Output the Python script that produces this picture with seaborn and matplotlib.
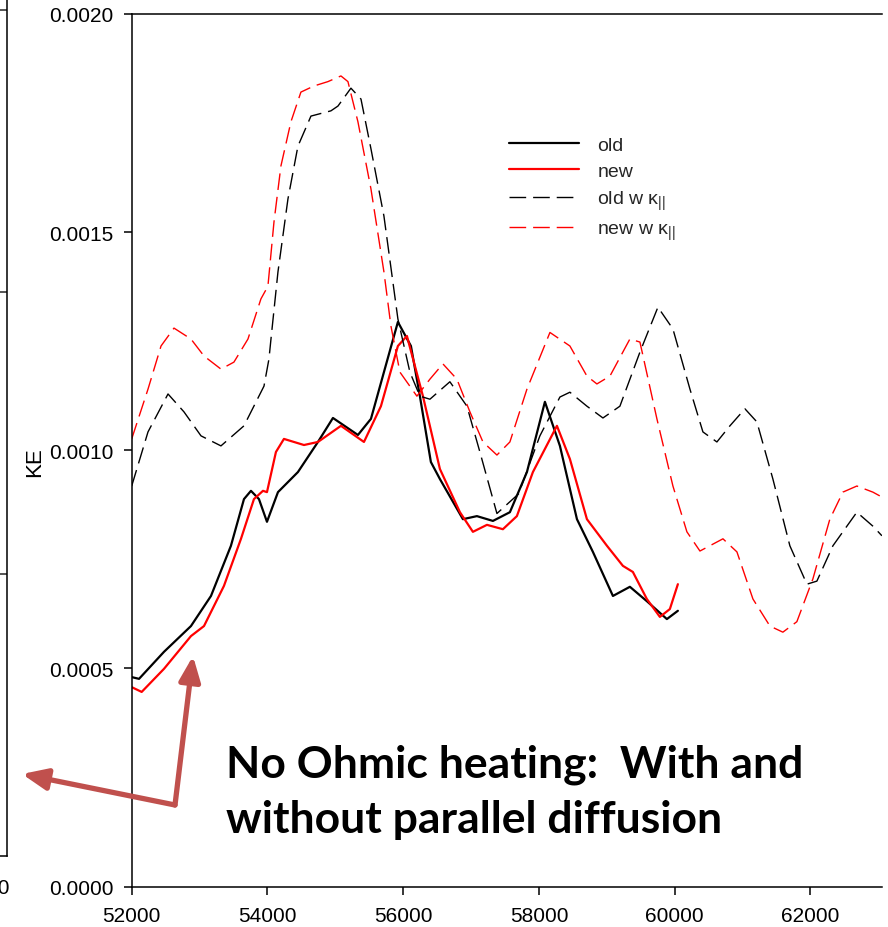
import numpy as np
import pandas as pd
import matplotlib
matplotlib.use("Agg")
import matplotlib.pyplot as plt
import seaborn as sns
from matplotlib.ticker import FormatStrFormatter, FixedLocator

# ---------------- data ----------------
x_old = [52000, 52108, 52476, 52873, 53168, 53462, 53654, 53757, 53875, 53993, 54155, 54449,
         54744, 54965, 55333, 55525, 55716, 55922, 56114, 56246, 56408, 56541, 56880, 57086,
         57322, 57572, 57823, 58088, 58309, 58560, 58795, 59090, 59340, 59590, 59885, 60047]
y_old = [0.000480, 0.000476, 0.000538, 0.000597, 0.000666, 0.000781, 0.000888, 0.000907,
         0.000888, 0.000836, 0.000904, 0.000950, 0.001019, 0.001074, 0.001035, 0.001072,
         0.001179, 0.001294, 0.001239, 0.001124, 0.000973, 0.000934, 0.000842, 0.000849,
         0.000838, 0.000858, 0.000950, 0.001111, 0.001010, 0.000842, 0.000767, 0.000666,
         0.000687, 0.000654, 0.000613, 0.000632]

x_new = [52000, 52147, 52476, 52873, 53065, 53359, 53610, 53801, 53934, 53993, 54125, 54243,
         54538, 54744, 55083, 55422, 55672, 55922, 56055, 56291, 56541, 56836, 57027, 57234,
         57469, 57675, 57911, 58265, 58456, 58707, 59002, 59237, 59384, 59590, 59782, 59929, 60047]
y_new = [0.000457, 0.000446, 0.000499, 0.000574, 0.000597, 0.000689, 0.000797, 0.000888,
         0.000907, 0.000904, 0.000996, 0.001026, 0.001012, 0.001019, 0.001056, 0.001019,
         0.001101, 0.001239, 0.001262, 0.001124, 0.000957, 0.000858, 0.000813, 0.000829,
         0.000819, 0.000849, 0.000950, 0.001056, 0.000980, 0.000842, 0.000781, 0.000735,
         0.000721, 0.000659, 0.000618, 0.000636, 0.000693]

x_oldk = [52000, 52240, 52535, 52770, 53021, 53315, 53654, 53949, 54022, 54052, 54155, 54302,
          54449, 54641, 54935, 55039, 55230, 55378, 55525, 55716, 55922, 56099, 56246, 56394,
          56688, 56939, 57130, 57381, 57700, 58014, 58309, 58456, 58707, 58943, 59193, 59488,
          59753, 59974, 60225, 60416, 60622, 60814, 61035, 61211, 61447, 61697, 61948, 62095,
          62331, 62684, 62920, 63053]
y_oldk = [0.000918, 0.001042, 0.001129, 0.001088, 0.001033, 0.001010, 0.001056, 0.001147,
          0.001209, 0.001255, 0.001409, 0.001576, 0.001697, 0.001766, 0.001778, 0.001789,
          0.001830, 0.001805, 0.001691, 0.001537, 0.001301, 0.001179, 0.001124, 0.001117,
          0.001157, 0.001101, 0.000996, 0.000855, 0.000900, 0.001033, 0.001122, 0.001133,
          0.001101, 0.001074, 0.001101, 0.001225, 0.001328, 0.001278, 0.001140, 0.001042,
          0.001019, 0.001056, 0.001095, 0.001065, 0.000934, 0.000781, 0.000693, 0.000700,
          0.000781, 0.000858, 0.000826, 0.000804]

x_newk = [52000, 52240, 52432, 52623, 52873, 53065, 53315, 53506, 53713, 53904, 54007, 54096,
          54199, 54346, 54493, 54685, 54891, 55083, 55186, 55333, 55525, 55716, 55819, 55952,
          56202, 56394, 56585, 56791, 56983, 57175, 57381, 57572, 57823, 58162, 58456, 58707,
          58854, 59046, 59340, 59488, 59738, 59974, 60180, 60372, 60711, 60917, 61153, 61403,
          61594, 61800, 62036, 62286, 62478, 62684, 62920, 63050]
y_newk = [0.001026, 0.001140, 0.001239, 0.001280, 0.001255, 0.001216, 0.001186, 0.001202,
          0.001255, 0.001347, 0.001376, 0.001523, 0.001652, 0.001753, 0.001821, 0.001835,
          0.001845, 0.001858, 0.001845, 0.001753, 0.001599, 0.001409, 0.001285, 0.001179,
          0.001124, 0.001163, 0.001198, 0.001163, 0.001088, 0.001019, 0.000989, 0.001019,
          0.001140, 0.001270, 0.001239, 0.001170, 0.001152, 0.001170, 0.001255, 0.001248,
          0.001072, 0.000918, 0.000813, 0.000769, 0.000797, 0.000767, 0.000659, 0.000597,
          0.000583, 0.000607, 0.000705, 0.000842, 0.000904, 0.000918, 0.000904, 0.000893]

labels = ["old", "new", "old w κ$_{||}$", "new w κ$_{||}$"]
x_ticks = [52000, 54000, 56000, 58000, 60000, 62000]
y_ticks = [0.0, 0.0005, 0.0010, 0.0015, 0.0020]
y_label = "KE"
note_line1 = "No Ohmic heating:  With and"
note_line2 = "without parallel diffusion"

# ---------------- figure ----------------
sns.set_theme(style="white")
plt.rcParams["font.family"] = ["Liberation Sans", "DejaVu Sans"]
plt.rcParams["mathtext.fontset"] = "custom"
plt.rcParams["mathtext.rm"] = "Liberation Sans"
plt.rcParams["mathtext.it"] = "Liberation Sans"
plt.rcParams["mathtext.default"] = "regular"

W, H = 888, 928
fig = plt.figure(figsize=(W / 100, H / 100), dpi=100)
fig.patch.set_facecolor("white")

# partial neighbouring panel at the far left (cropped)
ax2 = fig.add_axes([-0.2, (H - 857) / H, 0.2 + 7 / W, 857 / H])
ax2.set_xlim(0, 1)
ax2.set_ylim(0, 0.001 * 857 / 282)
for s in ["left", "top"]:
    ax2.spines[s].set_visible(False)
for s in ["right", "bottom"]:
    ax2.spines[s].set_color("black")
    ax2.spines[s].set_linewidth(1.1)
ax2.yaxis.tick_right()
ax2.yaxis.set_major_locator(FixedLocator([0.001, 0.002, 0.003]))
ax2.tick_params(axis="y", direction="in", length=6, width=1.1, labelright=False, right=True, left=False)
ax2.xaxis.set_major_locator(FixedLocator([1 - 27 / (0.2 * W + 7)]))
ax2.set_xticklabels(["64000"])
ax2.tick_params(axis="x", direction="out", length=6, width=1.1, labelsize=15, bottom=True,
                colors="black", pad=10)
ax2.set_facecolor("none")

# main axes
x0, x1 = 131.7, 881.7
y0, y1 = 887.5, 15
ax = fig.add_axes([x0 / W, (H - y0) / H, (x1 - x0) / W, (y0 - y1) / H])
ax.set_facecolor("white")

sns.lineplot(x=x_old, y=y_old, ax=ax, color="black", lw=1.6, label=labels[0], sort=False)
sns.lineplot(x=x_new, y=y_new, ax=ax, color="#ff0000", lw=1.6, label=labels[1], sort=False)
sns.lineplot(x=x_oldk, y=y_oldk, ax=ax, color="black", lw=1.0, linestyle=(0, (12, 5)),
             label=labels[2], sort=False)
sns.lineplot(x=x_newk, y=y_newk, ax=ax, color="#ff0000", lw=1.0, linestyle=(0, (12, 5)),
             label=labels[3], sort=False)

ax.set_xlim(52000, 63050)
ax.set_ylim(0, 0.002)
ax.set_xticks(x_ticks)
ax.set_yticks(y_ticks)
ax.yaxis.set_major_formatter(FormatStrFormatter("%.4f"))
ax.xaxis.set_major_formatter(FormatStrFormatter("%d"))
ax.tick_params(axis="both", direction="out", length=6, width=1.1, labelsize=15,
               colors="black", left=True, bottom=True)
ax.tick_params(axis="x", pad=8)
ax.tick_params(axis="y", pad=7)
for s in ["left", "bottom", "top"]:
    ax.spines[s].set_visible(True)
    ax.spines[s].set_color("black")
    ax.spines[s].set_linewidth(1.1)
ax.spines["right"].set_visible(False)
ax.set_xlabel("")
ax.set_ylabel(y_label, fontsize=16, color="black")
ax.yaxis.set_label_coords((45 - x0) / (x1 - x0), (y0 - 462) / (y0 - y1))

leg = ax.legend(loc="upper left", bbox_to_anchor=(509 / W, (H - 137) / H),
                bbox_transform=fig.transFigure, frameon=False, fontsize=14,
                handlelength=3.6, handletextpad=0.95, labelspacing=0.45,
                borderpad=0, borderaxespad=0)

# annotation arrows (figure pixel coordinates, origin bottom-left)
arrow_col = "#C0504D"
base = (175, H - 806)
for tip in [(193, H - 657), (22, H - 775)]:
    ax.annotate("", xy=tip, xycoords="figure pixels", xytext=base, textcoords="figure pixels",
                arrowprops=dict(arrowstyle="-|>,head_length=0.75,head_width=0.32",
                                color=arrow_col, lw=3.8, mutation_scale=20,
                                shrinkA=0, shrinkB=0), annotation_clip=False)

fig.text(226 / W, (H - 778) / H, note_line1, fontsize=32, fontweight="bold",
         family=["Lato", "DejaVu Sans"], color="black", va="baseline", ha="left")
fig.text(226 / W, (H - 833) / H, note_line2, fontsize=32, fontweight="bold",
         family=["Lato", "DejaVu Sans"], color="black", va="baseline", ha="left")

fig.savefig("out.png", dpi=100, facecolor="white")
